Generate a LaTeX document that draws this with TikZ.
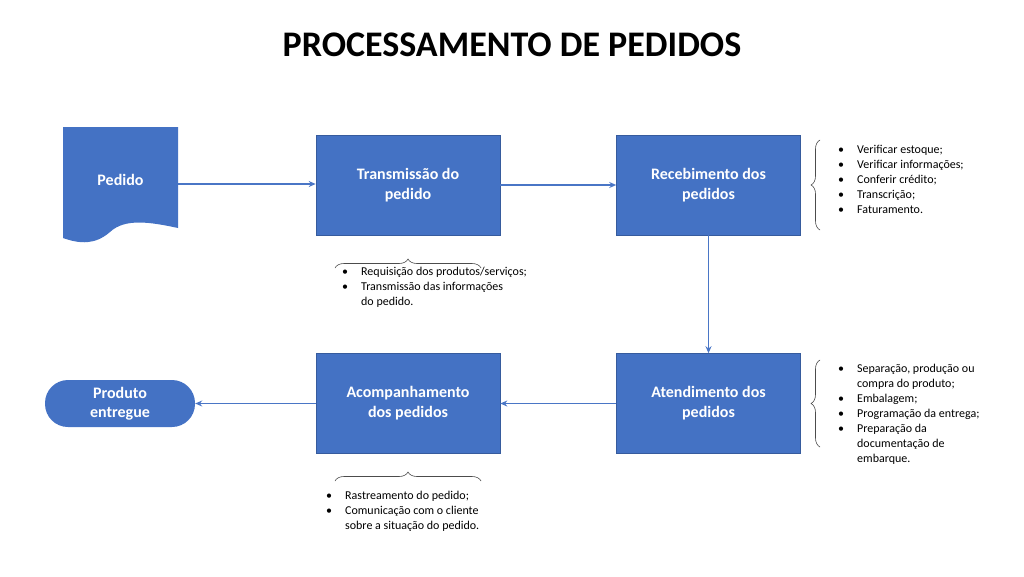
\documentclass[tikz,border=0pt]{standalone}
\usepackage{fontspec}
\setmainfont{Carlito}
\usetikzlibrary{decorations.pathreplacing,arrows.meta}
\definecolor{bx}{HTML}{4472C4}
\definecolor{ln}{HTML}{4A76C6}
\begin{document}
\begin{tikzpicture}[x=1pt,y=-1pt,
  box/.style={fill=bx,draw=bx!80!black,line width=0.6pt,minimum width=184pt,minimum height=100pt,text=white,font=\fontsize{16}{20}\selectfont\bfseries,align=center,inner sep=0pt},
  arr/.style={draw=ln,line width=1.3pt,-{Stealth[length=7pt,width=6pt]}},
  br/.style={decorate,decoration={brace,amplitude=9pt},draw=black!70,line width=0.6pt},
  lst/.style={font=\fontsize{12}{15}\selectfont,anchor=north west,inner sep=0pt,align=left}]
\useasboundingbox (0,0) rectangle (1024,576);
\node[font=\fontsize{36}{40}\selectfont\bfseries] (title) at (512,45) {PROCESSAMENTO DE PEDIDOS};
% Pedido document shape
\fill[bx] (63,127) -- (178,127) -- (178,228) .. controls (150,222) and (125,218) .. (110,232) .. controls (95,245) and (80,244) .. (63,238) -- cycle;
\node[text=white,font=\fontsize{16}{20}\selectfont\bfseries,minimum width=115pt,minimum height=100pt] (ped) at (120.5,180) {Pedido};
\node[box] (tr) at (408,185) {Transmissão do\\pedido};
\node[box] (rc) at (708.5,185) {Recebimento dos\\pedidos};
\node[box] (at) at (708.5,403.5) {Atendimento dos\\pedidos};
\node[box] (ac) at (408,403.5) {Acompanhamento\\dos pedidos};
\node[fill=bx,rounded corners=23pt,minimum width=150pt,minimum height=47pt,text=white,font=\fontsize{16}{19}\selectfont\bfseries,align=center,inner sep=0pt] (pe) at (120,403.5) {Produto\\entregue};
\draw[arr] (ped.east |- 0,184) -- (tr.west |- 0,184);
\draw[arr] (tr) -- (rc);
\draw[arr] (rc) -- (at);
\draw[arr] (at) -- (ac);
\draw[arr] (ac) -- (pe);
% braces
\coordinate (b1a) at (335,268); \coordinate (b1b) at (481,268);
\draw[br] (b1a) -- (b1b);
\coordinate (b2a) at (820,230); \coordinate (b2b) at (820,140);
\draw[br] (b2a) -- (b2b);
\coordinate (b3a) at (820,447); \coordinate (b3b) at (820,360);
\draw[br] (b3a) -- (b3b);
\coordinate (b4a) at (335,481); \coordinate (b4b) at (481,481);
\draw[br] (b4a) -- (b4b);
\newcommand\bl{\textbullet}
\node[lst] (l1) at (342,265) {\begin{tabular}{@{}l@{\hspace{13pt}}p{175pt}@{}}\bl & Requisição dos produtos/serviços;\\ \bl & Transmissão das informações\\ & do pedido.\end{tabular}};
\node[lst] (l2) at (838,143) {\begin{tabular}{@{}l@{\hspace{13pt}}l@{}}\bl & Verificar estoque;\\ \bl & Verificar informações;\\ \bl & Conferir crédito;\\ \bl & Transcrição;\\ \bl & Faturamento.\end{tabular}};
\node[lst] (l3) at (838,362) {\begin{tabular}{@{}l@{\hspace{13pt}}l@{}}\bl & Separação, produção ou\\ & compra do produto;\\ \bl & Embalagem;\\ \bl & Programação da entrega;\\ \bl & Preparação da\\ & documentação de\\ & embarque.\end{tabular}};
\node[lst] (l4) at (326,489) {\begin{tabular}{@{}l@{\hspace{13pt}}l@{}}\bl & Rastreamento do pedido;\\ \bl & Comunicação com o cliente\\ & sobre a situação do pedido.\end{tabular}};
\end{tikzpicture}
\end{document}
